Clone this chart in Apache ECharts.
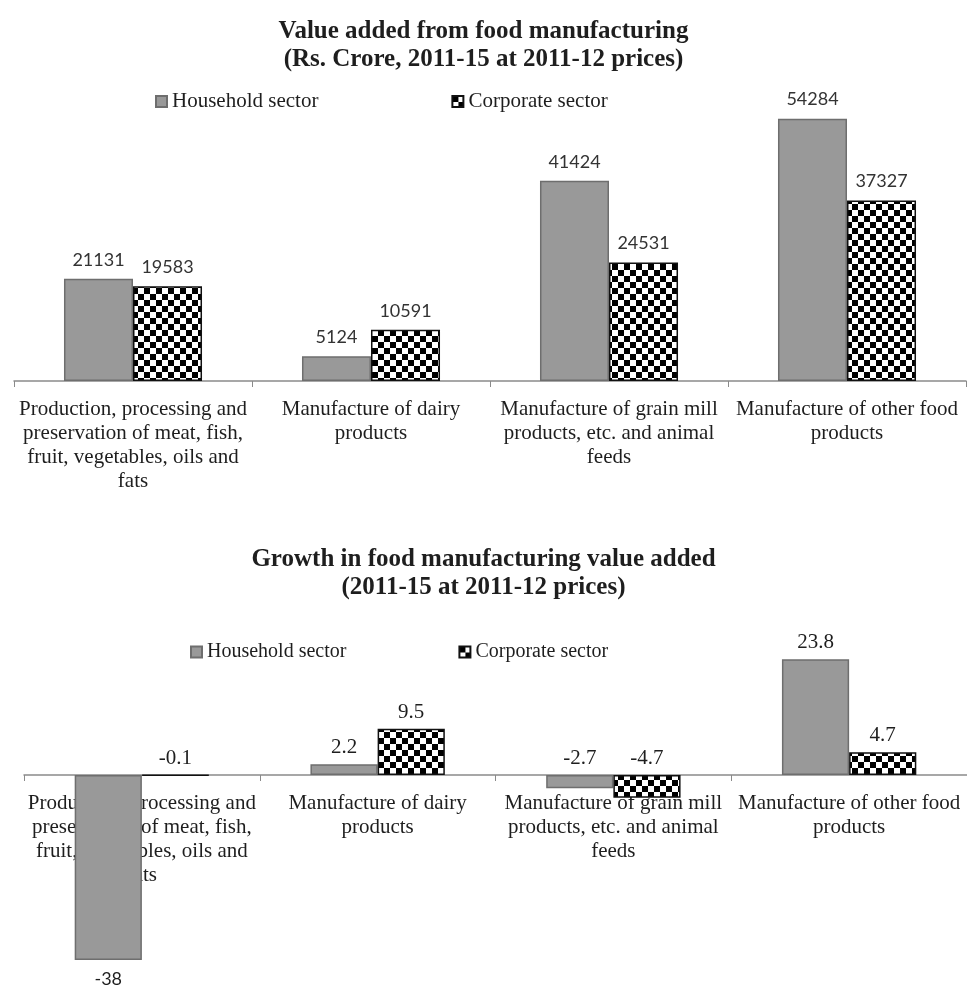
<!DOCTYPE html>
<html>
<head>
<meta charset="utf-8">
<script src="https://cdn.jsdelivr.net/npm/echarts@6/dist/echarts.min.js"></script>
<style>
  html,body{margin:0;padding:0;background:#fff;}
  #main{width:967px;height:994px;}
</style>
</head>
<body>
<div id="main"></div>
<script>
// categories, shared by both panels
const categories = [
  'Production, processing and\npreservation of meat, fish,\nfruit, vegetables, oils and\nfats',
  'Manufacture of dairy\nproducts',
  'Manufacture of grain mill\nproducts, etc. and animal\nfeeds',
  'Manufacture of other food\nproducts'
];
const seriesNames = ['Household sector', 'Corporate sector'];
// top panel: value added, Rs. crore
const valueHousehold = [21131, 5124, 41424, 54284];
const valueCorporate = [19583, 10591, 24531, 37327];
// bottom panel: growth, per cent
const growthHousehold = [-38, 2.2, -2.7, 23.8];
const growthCorporate = [-0.1, 9.5, -4.7, 4.7];

const titleTop = 'Value added from food manufacturing\n(Rs. Crore, 2011-15 at 2011-12 prices)';
const titleBottom = 'Growth in food manufacturing value added\n(2011-15 at 2011-12 prices)';

// checker pattern for corporate bars
const cv = document.createElement('canvas');
cv.width = 12; cv.height = 12;
const cx = cv.getContext('2d');
cx.fillStyle = '#fff'; cx.fillRect(0, 0, 12, 12);
cx.fillStyle = '#000';
cx.fillRect(0, 0, 6, 6);
cx.fillRect(6, 6, 6, 6);
const checker = {image: cv, repeat: 'repeat'};

const serif = '"Liberation Serif", "Times New Roman", serif';
const sans = 'Lato, "Open Sans", sans-serif';

const hhStyle = {color: '#999999', borderColor: '#6e6e6e', borderWidth: 1.5};
const cpStyle = {color: checker, borderColor: '#111', borderWidth: 1.5};

function xAxisFor(gi){
  return {
    type: 'category', gridIndex: gi, data: categories,
    axisLine: {onZero: false, lineStyle: {color: '#8a8a8a', width: 1.5}},
    axisTick: {show: true, length: 6, lineStyle: {color: '#8a8a8a'}},
    axisLabel: {
      interval: 0, margin: 16, color: '#1e1e1e',
      fontFamily: serif, fontSize: 21, lineHeight: 24
    }
  };
}

// the grid bottom is the zero line; negative bars hang below it
function yAxisFor(gi, min, max){
  return {
    type: 'value', gridIndex: gi, min: min, max: max,
    show: false, splitLine: {show: false}
  };
}

let growthHouseholdData = growthHousehold.map(function(v){
  if (v < -20) {
    return {value: v, label: {position: 'bottom', fontFamily: sans, fontSize: 18, distance: 10}};
  }
  return v;
});

function legendFor(left, top, gap, size){
  return {
    data: seriesNames, left: left, top: top, icon: 'rect',
    itemWidth: 11, itemHeight: 11, itemGap: gap,
    textStyle: {fontFamily: serif, fontSize: size, color: '#1e1e1e', padding: [0, 0, 0, 0]}
  };
}

const chart = echarts.init(document.getElementById('main'), null, {renderer: 'canvas'});
const option = {
  backgroundColor: '#fff',
  animation: false,
  title: [
    {
      text: titleTop, left: 'center', top: 13,
      textStyle: {fontFamily: serif, fontWeight: 'bold', fontSize: 25, lineHeight: 28, color: '#1e1e1e'}
    },
    {
      text: titleBottom, left: 'center', top: 541,
      textStyle: {fontFamily: serif, fontWeight: 'bold', fontSize: 25, lineHeight: 28, color: '#1e1e1e'}
    }
  ],
  legend: [
    legendFor(150, 86, 133, 21),
    legendFor(185, 637, 112, 20)
  ],
  grid: [
    {left: 14, right: 1, top: 91, height: 290, outerBoundsMode: 'none'},
    {left: 24, right: 0, top: 629, height: 146, outerBoundsMode: 'none'}
  ],
  xAxis: [xAxisFor(0), xAxisFor(1)],
  yAxis: [yAxisFor(0, 0, 60000), yAxisFor(1, 0, 30)],
  series: [
    {
      name: seriesNames[0], type: 'bar', xAxisIndex: 0, yAxisIndex: 0,
      data: valueHousehold, barGap: '0%', barCategoryGap: '42%',
      itemStyle: hhStyle,
      label: {show: true, position: 'top', distance: 10, fontFamily: sans, fontSize: 18, color: '#333'}
    },
    {
      name: seriesNames[1], type: 'bar', xAxisIndex: 0, yAxisIndex: 0,
      data: valueCorporate, barGap: '0%', barCategoryGap: '42%',
      itemStyle: cpStyle,
      label: {show: true, position: 'top', distance: 10, fontFamily: sans, fontSize: 18, color: '#333'}
    },
    {
      name: seriesNames[0], type: 'bar', xAxisIndex: 1, yAxisIndex: 1, clip: false,
      data: growthHouseholdData, barGap: '0%', barCategoryGap: '43%',
      itemStyle: hhStyle,
      label: {show: true, position: 'top', distance: 6, fontFamily: serif, fontSize: 21, color: '#1e1e1e'}
    },
    {
      name: seriesNames[1], type: 'bar', xAxisIndex: 1, yAxisIndex: 1, clip: false,
      data: growthCorporate, barGap: '0%', barCategoryGap: '43%',
      itemStyle: cpStyle,
      label: {show: true, position: 'top', distance: 6, fontFamily: serif, fontSize: 21, color: '#1e1e1e'}
    }
  ]
};
chart.setOption(option);
</script>
</body>
</html>
